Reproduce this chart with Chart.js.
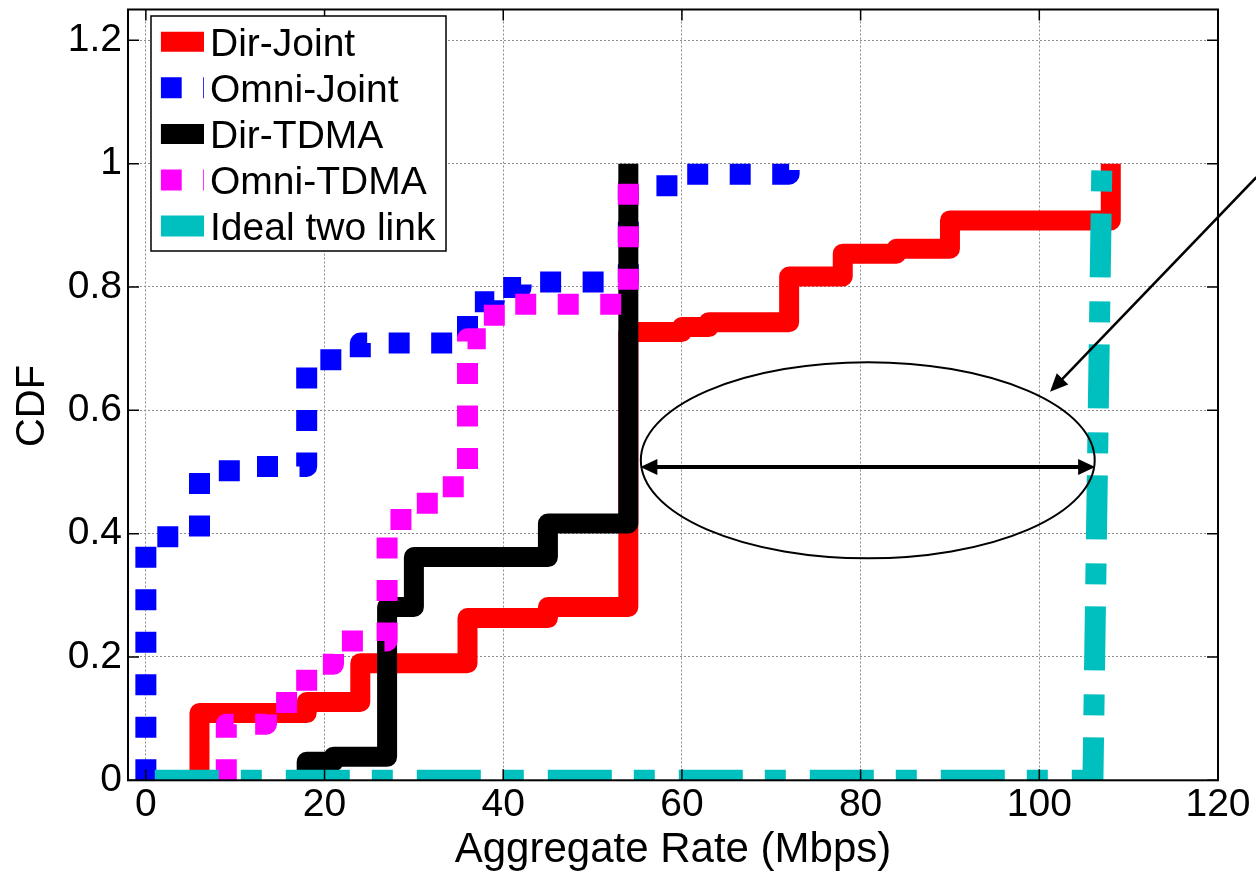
<!DOCTYPE html>
<html>
<head>
<meta charset="utf-8">
<script src="https://cdn.jsdelivr.net/npm/chart.js@4.4.1/dist/chart.umd.min.js"></script>
<style>
  html, body { margin: 0; padding: 0; background: #fff; }
  #wrap { width: 1256px; height: 871px; }
</style>
</head>
<body>
<div id="wrap"><canvas id="chart" width="1256" height="871"></canvas></div>
<script>
const FONT = "'Liberation Sans', Arial, Helvetica, sans-serif";

// axis ticks
const xTicks = [0, 20, 40, 60, 80, 100, 120];
const yTicks = [0, 0.2, 0.4, 0.6, 0.8, 1, 1.2];

// CDF steps (x = rate in Mbps, y = cumulative fraction)
const dirJointX = [6, 6, 18, 24, 36, 45, 54, 60, 63, 72, 78, 84, 90, 108];
const dirJointY = [0, 0.109, 0.127, 0.19, 0.263, 0.281, 0.727, 0.735, 0.743, 0.817, 0.854, 0.862, 0.908, 1.0];

const omniJointX = [0, 0, 6, 12, 18, 24, 36, 39, 42, 54, 60, 72];
const omniJointY = [0, 0.395, 0.502, 0.509, 0.682, 0.709, 0.776, 0.799, 0.808, 0.964, 0.983, 1.0];

const dirTdmaX = [18, 18, 21, 27, 30, 45, 54];
const dirTdmaY = [0, 0.03, 0.038, 0.281, 0.362, 0.4165, 1.0];

const omniTdmaX = [9, 9, 13.5, 18, 21, 27, 31.5, 36, 39, 54];
const omniTdmaY = [0, 0.091, 0.126, 0.188, 0.226, 0.423, 0.476, 0.716, 0.772, 1.0];

const idealX = [1, 106, 107, 107.3];
const idealY = [0, 0, 1.0, 1.0];

// annotation (data units)
const ellipseCenter = [80.8, 0.519];
const ellipseRadius = [25.4, 0.159];
const spanArrow = [[55.35, 0.508], [106.25, 0.508]];
const pointerArrow = [[124.3, 0.978], [101.2, 0.63]];

const pts = (xs, ys) => xs.map((x, i) => ({ x, y: ys[i] }));

const common = {
  pointRadius: 0,
  pointHoverRadius: 0,
  fill: false,
  clip: 0,
  borderJoinStyle: "round",
  borderCapStyle: "butt",
  tension: 0,
};

// "before": hold previous y up to the next x, then jump (CDF stairs)
const datasets = [
  { ...common, label: "Dir-Joint", data: pts(dirJointX, dirJointY), borderColor: "#ff0000", borderWidth: 20, stepped: "before", order: 4 },
  { ...common, label: "Omni-Joint", data: pts(omniJointX, omniJointY), borderColor: "#0000ff", borderWidth: 21, borderDash: [21, 21.5], stepped: "before", order: 3 },
  { ...common, label: "Dir-TDMA", data: pts(dirTdmaX, dirTdmaY), borderColor: "#000000", borderWidth: 20, stepped: "before", order: 2 },
  { ...common, label: "Omni-TDMA", data: pts(omniTdmaX, omniTdmaY), borderColor: "#ff00ff", borderWidth: 21, borderDash: [21, 21.5], stepped: "before", order: 1 },
  { ...common, label: "Ideal two link", data: pts(idealX, idealY), borderColor: "#00bfbf", borderWidth: 21, borderDash: [64, 22, 21, 24], stepped: false, order: 0 },
];

function arrowHead(ctx, x0, y0, x1, y1, len, half) {
  const a = Math.atan2(y1 - y0, x1 - x0);
  ctx.beginPath();
  ctx.moveTo(x1, y1);
  ctx.lineTo(x1 - len * Math.cos(a) + half * Math.sin(a), y1 - len * Math.sin(a) - half * Math.cos(a));
  ctx.lineTo(x1 - len * Math.cos(a) - half * Math.sin(a), y1 - len * Math.sin(a) + half * Math.cos(a));
  ctx.closePath();
  ctx.fill();
}

const framePlugin = {
  id: "frame",
  afterDatasetsDraw(chart) {
    const { ctx, chartArea: a, scales: { x, y } } = chart;
    ctx.save();
    // box + inward ticks
    ctx.strokeStyle = "#000";
    ctx.lineWidth = 2;
    ctx.setLineDash([]);
    ctx.strokeRect(a.left, a.top, a.right - a.left, a.bottom - a.top);
    ctx.lineWidth = 1.5;
    ctx.beginPath();
    xTicks.forEach(v => {
      const px = x.getPixelForValue(v);
      ctx.moveTo(px, a.bottom); ctx.lineTo(px, a.bottom - 11);
      ctx.moveTo(px, a.top); ctx.lineTo(px, a.top + 11);
    });
    yTicks.forEach(v => {
      const py = y.getPixelForValue(v);
      ctx.moveTo(a.left, py); ctx.lineTo(a.left + 11, py);
      ctx.moveTo(a.right, py); ctx.lineTo(a.right - 11, py);
    });
    ctx.stroke();

    // ellipse annotation
    const cx = x.getPixelForValue(ellipseCenter[0]);
    const cy = y.getPixelForValue(ellipseCenter[1]);
    const rx = x.getPixelForValue(ellipseCenter[0] + ellipseRadius[0]) - cx;
    const ry = cy - y.getPixelForValue(ellipseCenter[1] + ellipseRadius[1]);
    ctx.lineWidth = 2;
    ctx.beginPath();
    ctx.ellipse(cx, cy, rx, ry, 0, 0, Math.PI * 2);
    ctx.stroke();

    // double arrow across the gap
    const s0 = [x.getPixelForValue(spanArrow[0][0]), y.getPixelForValue(spanArrow[0][1])];
    const s1 = [x.getPixelForValue(spanArrow[1][0]), y.getPixelForValue(spanArrow[1][1])];
    ctx.fillStyle = "#000";
    ctx.lineWidth = 4;
    ctx.beginPath();
    ctx.moveTo(s0[0] + 10, s0[1]); ctx.lineTo(s1[0] - 10, s1[1]);
    ctx.stroke();
    arrowHead(ctx, s1[0], s1[1], s0[0], s0[1], 17, 8);
    arrowHead(ctx, s0[0], s0[1], s1[0], s1[1], 17, 8);

    // pointer arrow
    const p0 = [x.getPixelForValue(pointerArrow[0][0]), y.getPixelForValue(pointerArrow[0][1])];
    const p1 = [x.getPixelForValue(pointerArrow[1][0]), y.getPixelForValue(pointerArrow[1][1])];
    const ang = Math.atan2(p1[1] - p0[1], p1[0] - p0[0]);
    ctx.lineWidth = 2.5;
    ctx.beginPath();
    ctx.moveTo(p0[0], p0[1]);
    ctx.lineTo(p1[0] - 12 * Math.cos(ang), p1[1] - 12 * Math.sin(ang));
    ctx.stroke();
    arrowHead(ctx, p0[0], p0[1], p1[0], p1[1], 18, 8);

    // legend
    const lx = 151, ly = 16, lw = 295, lh = 235, rowH = 46.1;
    ctx.fillStyle = "#fff";
    ctx.fillRect(lx, ly, lw, lh);
    ctx.strokeStyle = "#000";
    ctx.lineWidth = 1.5;
    ctx.strokeRect(lx, ly, lw, lh);
    ctx.font = "39px " + FONT;
    ctx.textBaseline = "alphabetic";
    ctx.textAlign = "left";
    chart.data.datasets.forEach((ds, i) => {
      const ry0 = ly + 25.7 + i * rowH;
      ctx.save();
      ctx.beginPath();
      ctx.rect(160.7, ry0 - 15, 43.3, 30);
      ctx.clip();
      ctx.strokeStyle = ds.borderColor;
      ctx.lineWidth = ds.borderWidth;
      ctx.lineCap = "butt";
      ctx.setLineDash(ds.borderDash || []);
      ctx.beginPath();
      ctx.moveTo(160.7, ry0); ctx.lineTo(204, ry0);
      ctx.stroke();
      ctx.restore();
      ctx.fillStyle = "#000";
      ctx.fillText(ds.label, 210, ry0 + 14);
    });
    ctx.restore();
  }
};

new Chart(document.getElementById("chart"), {
  type: "line",
  data: { datasets },
  options: {
    responsive: false,
    animation: false,
    events: [],
    layout: { padding: { left: 0, right: 38, top: 9.5, bottom: 0 } },
    plugins: { legend: { display: false }, tooltip: { enabled: false } },
    scales: {
      x: {
        type: "linear",
        min: -2,
        max: 120,
        afterBuildTicks: s => { s.ticks = xTicks.map(v => ({ value: v })); },
        afterFit: s => { s.height = 871 - 780.3; s.paddingLeft = 0; s.paddingRight = 0; },
        grid: { color: "#8c8c8c", lineWidth: 1, drawTicks: false },
        border: { display: false, dash: [2, 2] },
        ticks: { color: "#000", font: { family: FONT, size: 39 }, padding: 2, maxRotation: 0, autoSkip: false },
        title: { display: true, text: "Aggregate Rate (Mbps)", color: "#000", font: { family: FONT, size: 42, lineHeight: 1 }, padding: { top: 0, bottom: 0 } },
      },
      y: {
        type: "linear",
        min: 0,
        max: 1.25,
        afterBuildTicks: s => { s.ticks = yTicks.map(v => ({ value: v })); },
        afterFit: s => { s.width = 128; s.paddingTop = 0; s.paddingBottom = 0; },
        grid: { color: "#8c8c8c", lineWidth: 1, drawTicks: false },
        border: { display: false, dash: [2, 2] },
        ticks: { color: "#000", font: { family: FONT, size: 39 }, padding: 6, callback: v => String(+v.toFixed(1)) },
        title: { display: true, text: "CDF  ", color: "#000", font: { family: FONT, size: 40, lineHeight: 1 }, padding: { top: 13, bottom: 0 } },
      },
    },
  },
  plugins: [framePlugin],
});
</script>
</body>
</html>
